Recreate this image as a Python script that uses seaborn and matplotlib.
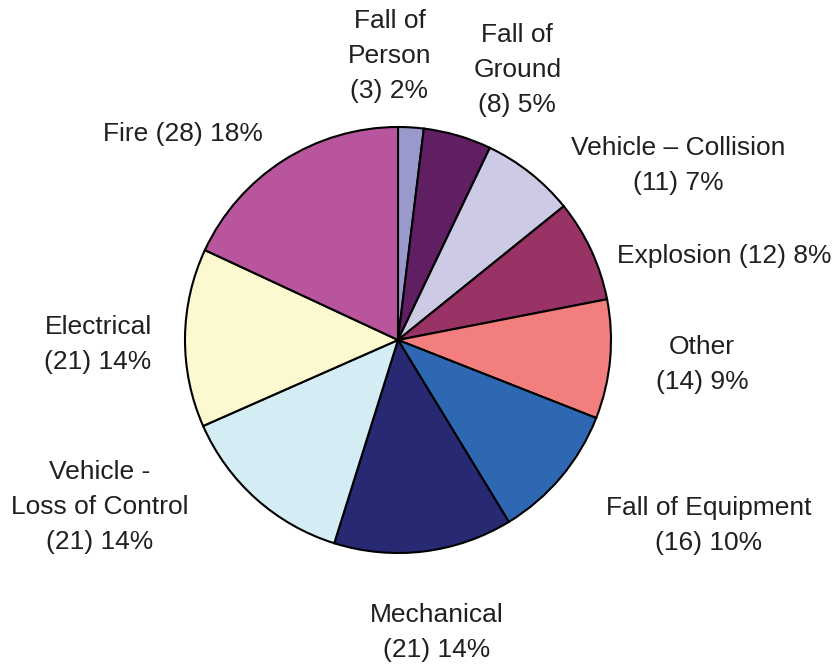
import matplotlib
matplotlib.use("Agg")
import matplotlib.pyplot as plt
import seaborn as sns

# Incident causes, clockwise from the top (trailing char = break before the count)
causes = ["Fall of\nPerson\n", "Fall of\nGround\n", "Vehicle \u2013 Collision\n", "Explosion ", "Other\n",
          "Fall of Equipment\n", "Mechanical\n", "Vehicle -\nLoss of Control\n", "Electrical\n", "Fire "]
counts = [3, 8, 11, 12, 14, 16, 21, 21, 21, 28]
colors = ["#9999CC", "#5F1F62", "#CDCAE6", "#993366", "#F27E7E",
          "#2E68B2", "#272A72", "#D4ECF3", "#FCF8D0", "#B8559D"]

# label centres, in units of the pie radius
label_pos = [(-0.04, 1.333), (0.56, 1.268), (1.315, 0.817), (1.531, 0.394), (1.427, -0.113),
             (1.46, -0.873), (0.183, -1.371), (-1.399, -0.784), (-1.408, -0.019), (-1.009, 0.967)]

sns.set_style("white")
plt.rcParams["font.family"] = ["Liberation Sans", "DejaVu Sans"]

fig = plt.figure(figsize=(8.36, 6.68), dpi=100)
ax = fig.add_axes([0, 0, 1, 1])

ax.pie(counts, colors=colors, startangle=90, counterclock=False, radius=1,
       wedgeprops=dict(edgecolor="black", linewidth=1.5))

total = sum(counts)
for name, n, (x, y) in zip(causes, counts, label_pos):
    pct = round(100 * n / total)
    ax.text(x, y, f"{name}({n}) {pct}%", ha="center", va="center", fontsize=19,
            color="#231F20", linespacing=1.58)

ax.set_xlim(-398 / 213, (836 - 398) / 213)
ax.set_ylim(-328 / 213, 340 / 213)
ax.set_aspect("equal")
ax.axis("off")

fig.savefig("out.png", dpi=100)
